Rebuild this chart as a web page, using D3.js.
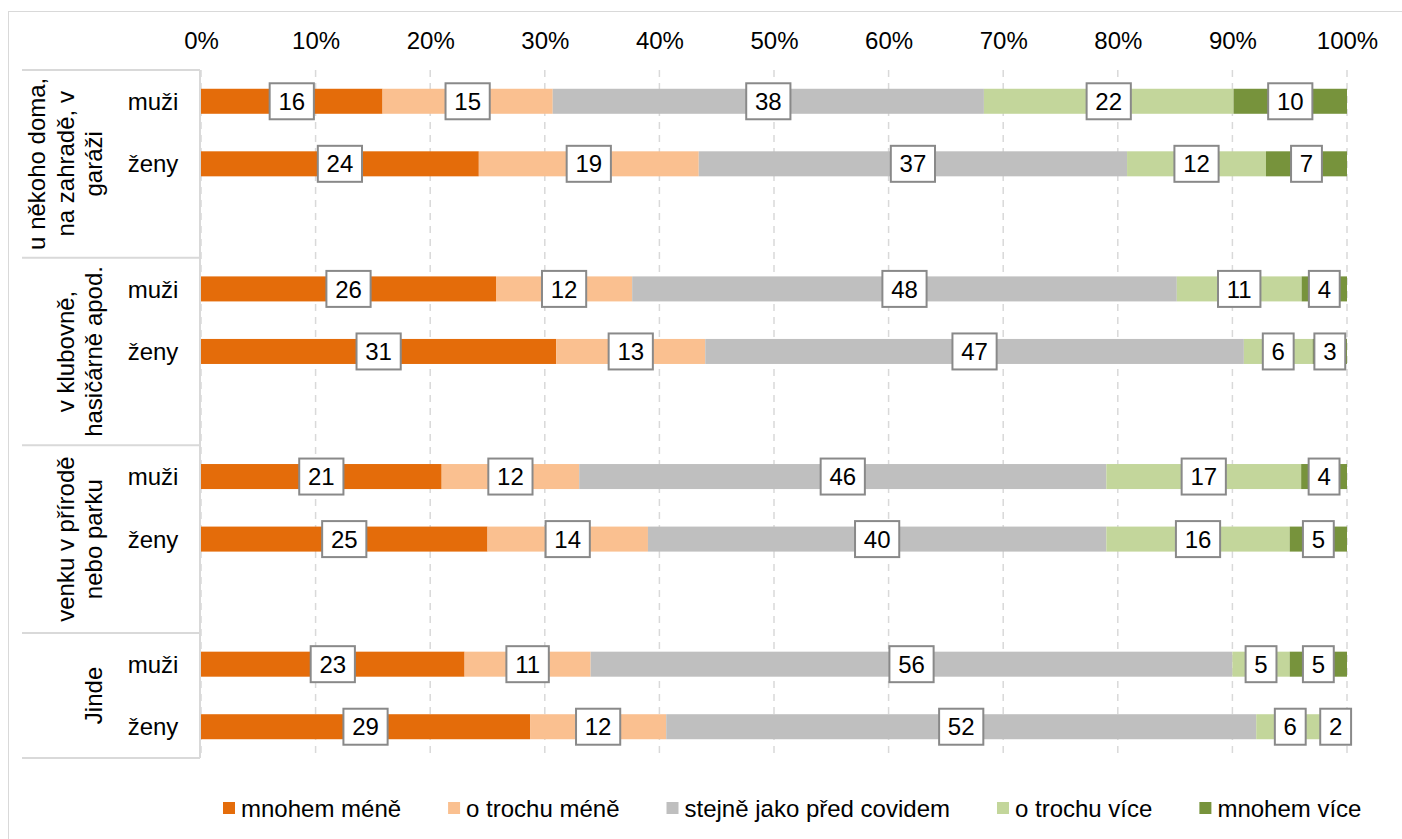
<!DOCTYPE html>
<html lang="cs">
<head>
<meta charset="utf-8">
<title>Změna četnosti setkávání podle místa</title>
<script src="https://cdn.jsdelivr.net/npm/d3@7"></script>
<style>
  html, body { margin: 0; padding: 0; background: #fff; }
  svg { display: block; font-family: "Liberation Sans", Arial, "Helvetica Neue", sans-serif; }
</style>
</head>
<body>
<svg id="chart" width="1402" height="839"></svg>
<script>
// Answer categories (stack order, left to right) and their colours
const seriesNames = ["mnohem méně", "o trochu méně", "stejně jako před covidem", "o trochu více", "mnohem více"];
const seriesColors = ["#E46C0A", "#FAC090", "#BFBFBF", "#C3D69B", "#77933C"];

// Places (outer categories) and respondents (inner categories)
const places = [
  ["u někoho doma,", "na zahradě, v", "garáži"],
  ["v klubovně,", "hasičárně apod."],
  ["venku v přírodě", "nebo parku"],
  ["Jinde"]
];
const genders = ["muži", "ženy"];

// Shares in % per place and gender
const domaMuzi = [16, 15, 38, 22, 10];
const domaZeny = [24, 19, 37, 12, 7];
const klubMuzi = [26, 12, 48, 11, 4];
const klubZeny = [31, 13, 47, 6, 3];
const prirodaMuzi = [21, 12, 46, 17, 4];
const prirodaZeny = [25, 14, 40, 16, 5];
const jindeMuzi = [23, 11, 56, 5, 5];
const jindeZeny = [29, 12, 52, 6, 2];

const xTicks = [0, 10, 20, 30, 40, 50, 60, 70, 80, 90, 100];

const placeValues = [
  [domaMuzi, domaZeny],
  [klubMuzi, klubZeny],
  [prirodaMuzi, prirodaZeny],
  [jindeMuzi, jindeZeny]
];

// Rows: one per place × gender, with an empty slot between places
const rows = [];
const slotKeys = [];
placeValues.forEach((pair, gi) => {
  pair.forEach((vals, si) => {
    const key = `p${gi}-${si}`;
    const row = { key, place: gi, gender: genders[si] };
    seriesNames.forEach((s, k) => { row[s] = vals[k]; });
    rows.push(row);
    slotKeys.push(key);
  });
  if (gi < placeValues.length - 1) slotKeys.push(`gap${gi}`);
});

const svg = d3.select("#chart");
const W = 1402, H = 839;
const plot = { left: 201, right: 1347, top: 70, bottom: 758 };
const FONT = 24;

// Chart frame
svg.append("rect")
  .attr("x", 8.5).attr("y", 11.5)
  .attr("width", W + 10).attr("height", H + 10)
  .attr("fill", "#fff").attr("stroke", "#D9D9D9").attr("stroke-width", 1);

const x = d3.scaleLinear().domain([0, 1]).range([plot.left, plot.right]);
const y = d3.scaleBand().domain(slotKeys).range([plot.top, plot.bottom])
  .paddingInner(0.6).paddingOuter(0.3);
const step = y.step();
const slotTop = k => y(k) - (step - y.bandwidth()) / 2;

// Vertical dashed gridlines
svg.append("g").selectAll("line")
  .data(xTicks)
  .join("line")
  .attr("x1", d => x(d / 100)).attr("x2", d => x(d / 100))
  .attr("y1", plot.top).attr("y2", plot.bottom)
  .attr("stroke", "#D9D9D9").attr("stroke-width", 1.5)
  .attr("stroke-dasharray", "7,6");

// Top percentage axis
const axis = d3.axisTop(x)
  .tickValues(xTicks.map(d => d / 100))
  .tickFormat(d => `${Math.round(d * 100)}%`)
  .tickSize(0).tickPadding(21);
const axisG = svg.append("g").attr("transform", `translate(0,${plot.top})`).call(axis);
axisG.select(".domain").remove();
axisG.selectAll("text")
  .attr("font-size", FONT).attr("fill", "#000")
  .style("font-family", "inherit");

// Stacked 100 % bars
const stack = d3.stack().keys(seriesNames).offset(d3.stackOffsetExpand);
const layers = stack(rows);

const barsG = svg.append("g");
layers.forEach((layer, li) => {
  barsG.append("g").attr("fill", seriesColors[li])
    .selectAll("rect")
    .data(layer)
    .join("rect")
    .attr("x", d => x(d[0]))
    .attr("width", d => x(d[1]) - x(d[0]))
    .attr("y", d => y(d.data.key))
    .attr("height", y.bandwidth());
});

// Value labels in bordered white boxes
const labelsG = svg.append("g");
layers.forEach((layer, li) => {
  layer.forEach(d => {
    const cx = (x(d[0]) + x(d[1])) / 2;
    const cy = y(d.data.key) + y.bandwidth() / 2;
    const g = labelsG.append("g");
    const box = g.append("rect");
    const t = g.append("text")
      .attr("x", cx).attr("y", cy)
      .attr("dy", "0.36em")
      .attr("text-anchor", "middle")
      .attr("font-size", FONT).attr("fill", "#000")
      .text(d.data[layer.key]);
    const tw = t.node().getComputedTextLength();
    const bw = tw + 17.5, bh = 36;
    box.attr("x", cx - bw / 2).attr("y", cy - bh / 2)
      .attr("width", bw).attr("height", bh)
      .attr("fill", "#fff").attr("stroke", "#898989").attr("stroke-width", 2);
  });
});

// Category table on the left
const tableG = svg.append("g");
const tableLeft = 22, tableRight = plot.left - 1;
const groupBounds = places.map((p, gi) => {
  const first = `p${gi}-0`, last = `p${gi}-1`;
  const top = slotTop(first);
  const bottom = gi < places.length - 1 ? slotTop(`gap${gi}`) + step : slotTop(last) + step;
  return { top, bottom };
});
const hLines = [groupBounds[0].top, ...groupBounds.map(b => b.bottom)];
tableG.selectAll("line.h")
  .data(hLines)
  .join("line")
  .attr("class", "h")
  .attr("x1", tableLeft).attr("x2", tableRight)
  .attr("y1", d => d).attr("y2", d => d)
  .attr("stroke", "#D9D9D9").attr("stroke-width", 2);
tableG.append("line")
  .attr("x1", tableRight).attr("x2", tableRight)
  .attr("y1", hLines[0]).attr("y2", hLines[hLines.length - 1])
  .attr("stroke", "#D9D9D9").attr("stroke-width", 2);

// Gender labels
tableG.selectAll("text.gender")
  .data(rows)
  .join("text")
  .attr("class", "gender")
  .attr("x", 153)
  .attr("y", d => y(d.key) + y.bandwidth() / 2)
  .attr("dy", "0.36em")
  .attr("text-anchor", "middle")
  .attr("font-size", FONT).attr("fill", "#000")
  .text(d => d.gender);

// Rotated place labels
const lineH = 28.5, lastBaseline = 102;
places.forEach((lines, gi) => {
  const b = groupBounds[gi];
  const cy = (b.top + b.bottom) / 2;
  lines.forEach((ln, li) => {
    const bx = lastBaseline - (lines.length - 1 - li) * lineH;
    tableG.append("text")
      .attr("transform", `translate(${bx},${cy}) rotate(-90)`)
      .attr("text-anchor", "middle")
      .attr("font-size", FONT).attr("fill", "#000")
      .text(ln);
  });
});

// Legend
const legendG = svg.append("g").attr("transform", "translate(223,808)");
let lx = 0;
seriesNames.forEach((s, i) => {
  const item = legendG.append("g").attr("transform", `translate(${lx},0)`);
  item.append("rect").attr("x", 0).attr("y", -6).attr("width", 12).attr("height", 12)
    .attr("fill", seriesColors[i]);
  const t = item.append("text").attr("x", 18).attr("y", 0).attr("dy", "0.36em")
    .attr("font-size", FONT).attr("fill", "#000").text(s);
  lx += 18 + t.node().getComputedTextLength() + 47;
});
</script>
</body>
</html>
